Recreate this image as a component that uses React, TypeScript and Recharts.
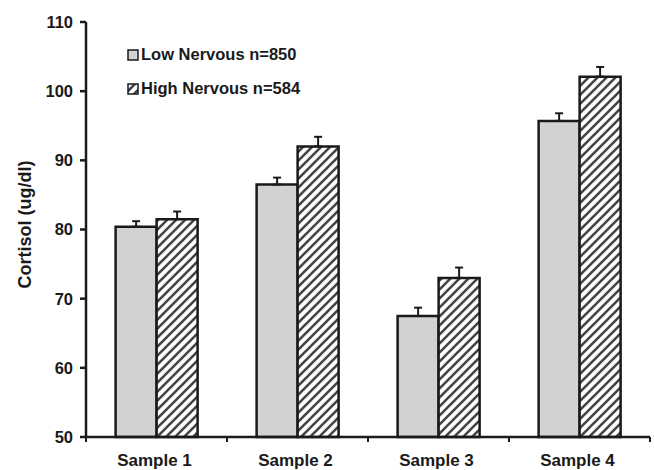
import React from 'react';
import { BarChart, Bar, XAxis, YAxis, Legend, ErrorBar } from 'recharts';

const samples = ['Sample 1', 'Sample 2', 'Sample 3', 'Sample 4'];
const lowNervous = [80.4, 86.5, 67.5, 95.7];
const lowNervousErr = [0.8, 1.0, 1.2, 1.1];
const highNervous = [81.5, 92.0, 73.0, 102.1];
const highNervousErr = [1.1, 1.4, 1.5, 1.4];
const yTicks = [50, 60, 70, 80, 90, 100, 110];

const data = samples.map((name, i) => ({
  name,
  low: lowNervous[i],
  lowErr: [0, lowNervousErr[i]],
  high: highNervous[i],
  highErr: [0, highNervousErr[i]],
}));

const W = 654;
const H = 470;
const yAxisW = 86;
const rightM = 4;
const step = (W - yAxisW - rightM) / samples.length;
const font = '"Liberation Sans", Arial, Helvetica, sans-serif';
const ink = '#1a1a1a';
const gray = '#d1d2d4';

const XTick = (props: any) => {
  const { x, y, index } = props;
  const last = index === samples.length - 1;
  return (
    <g>
      <line x1={x - step / 2} y1={y} x2={x - step / 2} y2={y + 5} stroke={ink} strokeWidth={2} />
      {last && <line x1={x + step / 2} y1={y} x2={x + step / 2} y2={y + 5} stroke={ink} strokeWidth={2} />}
      <text x={x - 2} y={y + 29} textAnchor="middle" fill={ink} fontFamily={font} fontWeight="bold" fontSize={17}>
        {props.payload.value}
      </text>
    </g>
  );
};

const LegendBox = () => (
  <div style={{ fontFamily: font, fontWeight: 'bold', fontSize: 16.5, color: ink, lineHeight: '19px' }}>
    {[
      { label: 'Low Nervous n=850', fill: gray },
      { label: 'High Nervous n=584', fill: 'url(#hatch)' },
    ].map((item, i) => (
      <div key={i} style={{ display: 'flex', alignItems: 'center', marginBottom: i === 0 ? 15 : 0 }}>
        <svg width={12} height={12} style={{ marginRight: 2 }}>
          <rect x={1} y={1} width={10} height={10} fill={item.fill} stroke={ink} strokeWidth={1.5} />
        </svg>
        <span>{item.label}</span>
      </div>
    ))}
  </div>
);

export default function App() {
  return (
    <div style={{ position: 'absolute', left: 0, top: 0, background: '#fff' }}>
      <BarChart
        width={W}
        height={H}
        data={data}
        margin={{ top: 22, right: rightM, bottom: 0, left: 0 }}
        barCategoryGap="21%"
        barGap={0}
      >
        <defs>
          <pattern id="hatch" patternUnits="userSpaceOnUse" width={9} height={9}>
            <rect width={9} height={9} fill="#fff" />
            <path d="M-2,2 L2,-2 M0,9 L9,0 M7,11 L11,7" stroke="#444" strokeWidth={2.6} />
          </pattern>
        </defs>
        <XAxis
          dataKey="name"
          height={33}
          axisLine={{ stroke: ink, strokeWidth: 2.5 }}
          tickLine={false}
          tickSize={0}
          tickMargin={0}
          tick={<XTick />}
          interval={0}
        />
        <YAxis
          width={yAxisW}
          domain={[50, 110]}
          ticks={yTicks}
          interval={0}
          axisLine={{ stroke: ink, strokeWidth: 2.5 }}
          tickLine={{ stroke: ink, strokeWidth: 2.5 }}
          tickSize={6}
          tickMargin={7}
          tick={{ fill: ink, fontFamily: font, fontWeight: 'bold', fontSize: 16.5 }}
          label={{
            value: 'Cortisol (ug/dl)',
            angle: -90,
            position: 'insideLeft',
            dx: 20,
            dy: -5,
            style: { textAnchor: 'middle', fill: ink, fontFamily: font, fontWeight: 'bold', fontSize: 18 },
          }}
        />
        <Legend
          layout="vertical"
          align="center"
          verticalAlign="middle"
          content={<LegendBox />}
          wrapperStyle={{ top: 45, left: 127, width: 'auto' }}
        />
        <Bar dataKey="low" name="Low Nervous n=850" fill={gray} stroke={ink} strokeWidth={2.5} isAnimationActive={false}>
          <ErrorBar dataKey="lowErr" width={4} stroke={ink} strokeWidth={2} direction="y" />
        </Bar>
        <Bar dataKey="high" name="High Nervous n=584" fill="url(#hatch)" stroke={ink} strokeWidth={2.5} isAnimationActive={false}>
          <ErrorBar dataKey="highErr" width={4} stroke={ink} strokeWidth={2} direction="y" />
        </Bar>
      </BarChart>
    </div>
  );
}
